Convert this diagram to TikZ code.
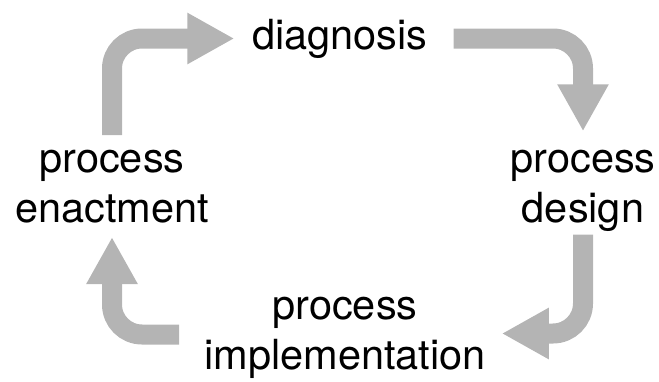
\documentclass[tikz,border=0pt]{standalone}
\usepackage{fontspec}
\setmainfont{TeX Gyre Heros}
\usepackage{xcolor}
\usetikzlibrary{arrows.meta}
\definecolor{cyclegray}{RGB}{180,180,180}
\tikzset{phase/.style={inner sep=0pt, outer sep=0pt, align=center,
   font=\fontsize{41.5}{50}\selectfont},
 cycle/.style={draw=cyclegray, line width=20pt, rounded corners=30pt,
   -{Triangle[length=47pt, width=48pt]}},
 }

\begin{document}
\begin{tikzpicture}[x=1pt, y=-1pt]
        \useasboundingbox (0,0) rectangle (659,381);
        \node[phase] (diag) at (340, 38.5) {diagnosis};
        \node[phase] (enact) at (112, 186.5) {process\\enactment};
        \node[phase] (design) at (583, 191) {process\\design};
        \node[phase] (impl) at (345, 337.5) {process\\implementation};
        \draw[cycle] ([yshift=15pt]enact.north) |- ([xshift=-18pt]diag.west);
        \draw[cycle] ([xshift=26pt]diag.east) -| ([yshift=19pt]design.north);
        \draw[cycle] ([yshift=-3pt]design.south) |- ([xshift=16pt, yshift=4pt]impl.east);
        \draw[cycle] ([xshift=-25pt, yshift=3pt]impl.west) -| ([yshift=-14pt]enact.south);
    \end{tikzpicture}
\end{document}
